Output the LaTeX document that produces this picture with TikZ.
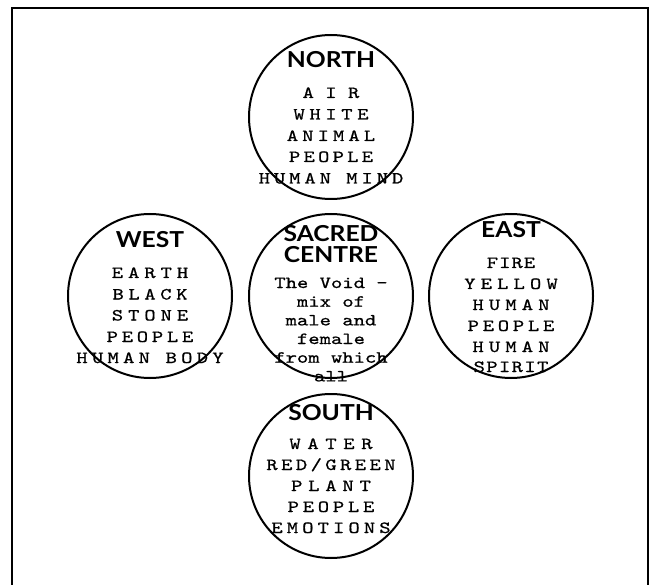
\documentclass[tikz,border=0pt]{standalone}
\usepackage{fontspec}
\newfontfamily\headfont{Lato}[FakeStretch=1.12]
\newfontfamily\cour{lmmono10-regular.otf}[FakeStretch=1.27,FakeBold=0.8]
\newcommand{\ls}[2]{{\addfontfeature{LetterSpace=#1}#2}}
\begin{document}
\begin{tikzpicture}[x=1pt,y=-1pt,
  ring/.style={circle,draw,line width=2pt,minimum size=164pt,inner sep=0pt},
  head/.style={font=\headfont\bfseries\fontsize{22}{22}\selectfont,anchor=base,inner sep=0pt},
  body/.style={font=\cour\fontsize{17}{17}\selectfont,anchor=base,inner sep=0pt}]
\useasboundingbox (0,0) rectangle (653,585);
\clip (0,0) rectangle (653,585);
\draw[line width=2pt] (12,8) rectangle (648,620);
% North
\node[head] (Nh) at (331,68) {NORTH};
\node[body] (N1) at (331,98) {\ls{67}{AIR}};
\node[body] (N2) at (331,119.5) {\ls{27}{WHITE}};
\node[body] (N3) at (331,141) {\ls{24}{ANIMAL}};
\node[body] (N4) at (331,162) {\ls{19}{PEOPLE}};
\node[body] (N5) at (331,183.5) {\ls{23}{HUMAN MIND}};
% West
\node[head] (Wh) at (150,248) {WEST};
\node[body] (W1) at (150,278) {\ls{29}{EARTH}};
\node[body] (W2) at (150,299.5) {\ls{27}{BLACK}};
\node[body] (W3) at (150,320.5) {\ls{29}{STONE}};
\node[body] (W4) at (150,342) {\ls{22}{PEOPLE}};
\node[body] (W5) at (150,363) {\ls{25}{HUMAN BODY}};
% Centre
\node[head] (Ch1) at (331,242) {SACRED};
\node[head] (Ch2) at (331,263) {CENTRE};
\node[body] (C1) at (331,288) {The Void -};
\node[body] (C2) at (331,306.7) {mix of};
\node[body] (C3) at (331,325.4) {male and};
\node[body] (C4) at (331,344) {female};
\node[body] (C5) at (331,362.7) {from which};
\node[body] (C6) at (331,381.4) {all};
% East
\node[head] (Eh) at (511,238) {EAST};
\node[body] (E1) at (511,268) {\ls{6}{FIRE}};
\node[body] (E2) at (511,289) {\ls{30}{YELLOW}};
\node[body] (E3) at (511,310) {\ls{30}{HUMAN}};
\node[body] (E4) at (511,331) {\ls{22}{PEOPLE}};
\node[body] (E5) at (511,352) {\ls{30}{HUMAN}};
\node[body] (E6) at (511,372) {\ls{8}{SPIRIT}};
% South
\node[head] (Sh) at (331,420) {SOUTH};
\node[body] (S1) at (331,449) {\ls{39}{WATER}};
\node[body] (S2) at (331,470) {\ls{20}{RED/GREEN}};
\node[body] (S3) at (331,491) {\ls{34}{PLANT}};
\node[body] (S4) at (331,512) {\ls{22}{PEOPLE}};
\node[body] (S5) at (331,533) {\ls{24}{EMOTIONS}};
% circles
\node[ring] (cN) at (331,117) {};
\node[ring] (cW) at (150,296) {};
\node[ring] (cC) at (331,296) {};
\node[ring] (cE) at (511,296) {};
\node[ring] (cS) at (331,476) {};
\end{tikzpicture}
\end{document}
